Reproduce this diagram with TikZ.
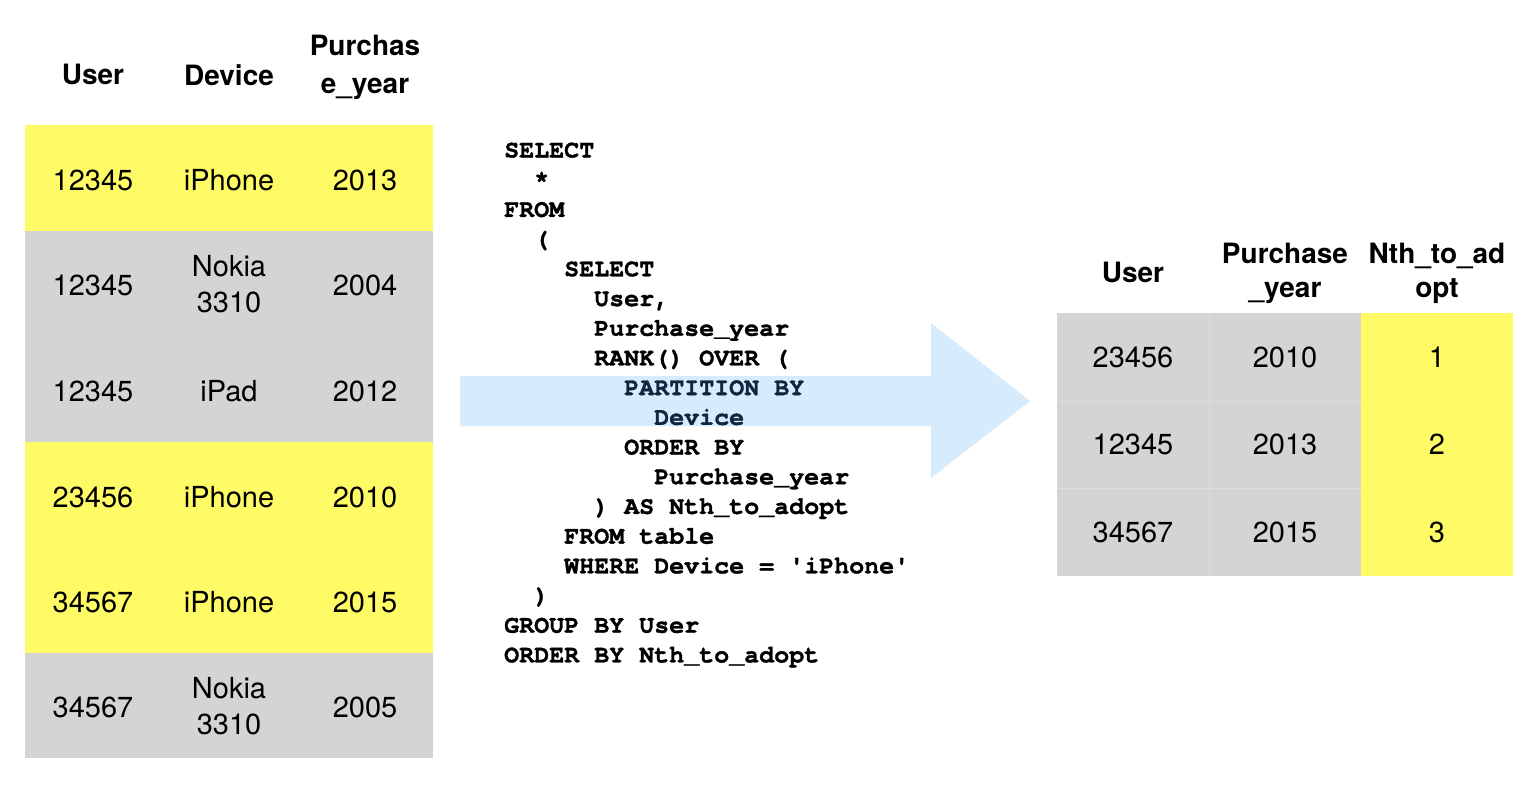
\documentclass[tikz,border=0pt]{standalone}
\usepackage{fontspec}
\setmainfont{TeX Gyre Heros}
\setmonofont[BoldFeatures={FakeBold=1.2}]{TeX Gyre Cursor}
\definecolor{hy}{RGB}{255,251,102}
\definecolor{hg}{RGB}{212,212,212}
\definecolor{hgl}{RGB}{222,222,222}
\definecolor{ab}{RGB}{214,235,251}
\definecolor{navy}{RGB}{14,38,62}
\newcommand\capH{\vphantom{H}}
\begin{document}
\begin{tikzpicture}[x=1pt,y=-1pt,
  cell/.style={anchor=north,inner sep=0pt,align=center,font=\fontsize{29}{36}\selectfont},
  lhead/.style={anchor=north,inner sep=0pt,align=center,font=\fontsize{28}{37.5}\selectfont\bfseries},
  rhead/.style={anchor=north,inner sep=0pt,align=center,font=\fontsize{28}{34}\selectfont\bfseries},
  code/.style={anchor=base west,inner sep=0pt,font=\fontsize{25}{30}\selectfont\ttfamily\bfseries},
  hl/.style={text=navy},
  yband/.style={fill=hy},
  gband/.style={fill=hg},
  sep/.style={draw=hgl,line width=1pt}
]
\useasboundingbox (0,0) rectangle (1536,785);
\fill[white] (0,0) rectangle (1536,785);

% ---------- left table ----------
\fill[yband] (25,125) rectangle (433,230.5);
\fill[gband] (25,230.5) rectangle (433,441.5);
\fill[yband] (25,441.5) rectangle (433,652.5);
\fill[gband] (25,652.5) rectangle (433,758);

\node[lhead] (lh1) at (93,64) {\capH User};
\node[lhead] (lh2) at (229,64) {\capH Device};
\node[lhead] (lh3) at (365,35) {\capH Purchas\\e\_year};

\node[cell] (l11) at (93,169) {\capH 12345};
\node[cell] (l12) at (229,169) {\capH iPhone};
\node[cell] (l13) at (365,169) {\capH 2013};

\node[cell] (l21) at (93,274) {\capH 12345};
\node[cell] (l22) at (229,255) {\capH Nokia\\3310};
\node[cell] (l23) at (365,274) {\capH 2004};

\node[cell] (l31) at (93,380) {\capH 12345};
\node[cell] (l32) at (229,380) {\capH iPad};
\node[cell] (l33) at (365,380) {\capH 2012};

\node[cell] (l41) at (93,486) {\capH 23456};
\node[cell] (l42) at (229,486) {\capH iPhone};
\node[cell] (l43) at (365,486) {\capH 2010};

\node[cell] (l51) at (93,591) {\capH 34567};
\node[cell] (l52) at (229,591) {\capH iPhone};
\node[cell] (l53) at (365,591) {\capH 2015};

\node[cell] (l61) at (93,696) {\capH 34567};
\node[cell] (l62) at (229,677) {\capH Nokia\\3310};
\node[cell] (l63) at (365,696) {\capH 2005};

% ---------- arrow ----------
\fill[ab] (460,376) -- (931,376) -- (931,323) -- (1030,401) -- (931,478) -- (931,426) -- (460,426) -- cycle;

% ---------- code ----------
\node[code] (c1)  at (504,157.5) {SELECT};
\node[code] (c2)  at (534,187.2) {*};
\node[code] (c3)  at (504,216.9) {FROM};
\node[code] (c4)  at (534,246.6) {(};
\node[code] (c5)  at (564,276.3) {SELECT};
\node[code] (c6)  at (594,306.0) {User,};
\node[code] (c7)  at (594,335.7) {Purchase\_year};
\node[code] (c8)  at (594,365.4) {RANK() OVER (};
\node[code,hl] (c9)  at (624,395.1) {PARTITION BY};
\node[code,hl] (c10) at (654,424.8) {Device};
\node[code] (c11) at (624,454.5) {ORDER BY};
\node[code] (c12) at (654,484.2) {Purchase\_year};
\node[code] (c13) at (594,513.9) {) AS Nth\_to\_adopt};
\node[code] (c14) at (564,543.6) {FROM table};
\node[code] (c15) at (564,573.3) {WHERE Device = 'iPhone'};
\node[code] (c16) at (534,603.0) {)};
\node[code] (c17) at (504,632.7) {GROUP BY User};
\node[code] (c18) at (504,662.4) {ORDER BY Nth\_to\_adopt};

% ---------- right table ----------
\fill[gband] (1057,313) rectangle (1361,576);
\fill[yband] (1361,313) rectangle (1513,576);
\draw[sep] (1209,313) -- (1209,576);
\draw[sep] (1057,401) -- (1361,401);
\draw[sep] (1057,488) -- (1361,488);

\node[rhead] (rh1) at (1133,262) {\capH User};
\node[rhead] (rh2) at (1285,243) {\capH Purchase\\\_year};
\node[rhead] (rh3) at (1437,243) {\capH Nth\_to\_ad\\opt};

\node[cell] (r11) at (1133,346) {\capH 23456};
\node[cell] (r12) at (1285,346) {\capH 2010};
\node[cell] (r13) at (1437,346) {\capH 1};

\node[cell] (r21) at (1133,433.5) {\capH 12345};
\node[cell] (r22) at (1285,433.5) {\capH 2013};
\node[cell] (r23) at (1437,433.5) {\capH 2};

\node[cell] (r31) at (1133,521) {\capH 34567};
\node[cell] (r32) at (1285,521) {\capH 2015};
\node[cell] (r33) at (1437,521) {\capH 3};
\end{tikzpicture}
\end{document}
